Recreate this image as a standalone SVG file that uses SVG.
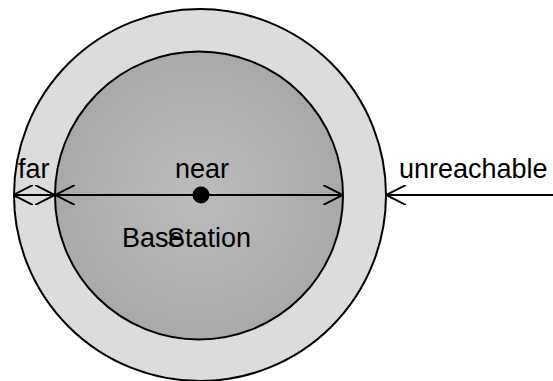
<svg xmlns="http://www.w3.org/2000/svg" width="553" height="381" viewBox="0 0 553 381">
  <style>
    .ring { stroke: #000; stroke-width: 2; }
    .lbl { font-family: "Liberation Sans", Arial, sans-serif; font-size: 27px; fill: #000; }
    .edge { stroke: #000; stroke-width: 2; fill: none; }
  </style>
  <defs>
    <radialGradient id="nearFill" cx="0.5" cy="0.5" r="0.5">
      <stop offset="0" stop-color="#bcbcbc"/>
      <stop offset="1" stop-color="#a9a9a9"/>
    </radialGradient>
    <marker id="openArrow" viewBox="0 0 20 20" refX="20" refY="10" markerWidth="20" markerHeight="20" markerUnits="userSpaceOnUse" orient="auto-start-reverse">
      <path d="M0,0 L20,10 L0,20" fill="none" stroke="#000" stroke-width="2"/>
    </marker>
  </defs>

  <!-- coverage zones -->
  <g id="far-zone">
    <circle class="ring" cx="200" cy="195" r="186" fill="#dcdcdc"/>
  </g>
  <g id="near-zone">
    <circle class="ring" cx="199" cy="195.5" r="144" fill="url(#nearFill)"/>
  </g>
  <g id="base-station">
    <circle cx="201" cy="195" r="8.5" fill="#000"/>
    <text class="lbl" x="122" y="247">Base</text>
    <text class="lbl" x="167" y="247">Station</text>
  </g>

  <!-- range arrows -->
  <g id="connectors">
    <line class="edge" x1="13" y1="195" x2="55" y2="195" marker-start="url(#openArrow)" marker-end="url(#openArrow)"/>
    <line class="edge" x1="55" y1="195" x2="343" y2="195" marker-start="url(#openArrow)" marker-end="url(#openArrow)"/>
    <line class="edge" x1="553" y1="195" x2="386" y2="195" marker-end="url(#openArrow)"/>
  </g>

  <g id="labels">
    <text class="lbl" x="18" y="178">far</text>
    <text class="lbl" x="175" y="178">near</text>
    <text class="lbl" x="399" y="178">unreachable</text>
  </g>
</svg>
